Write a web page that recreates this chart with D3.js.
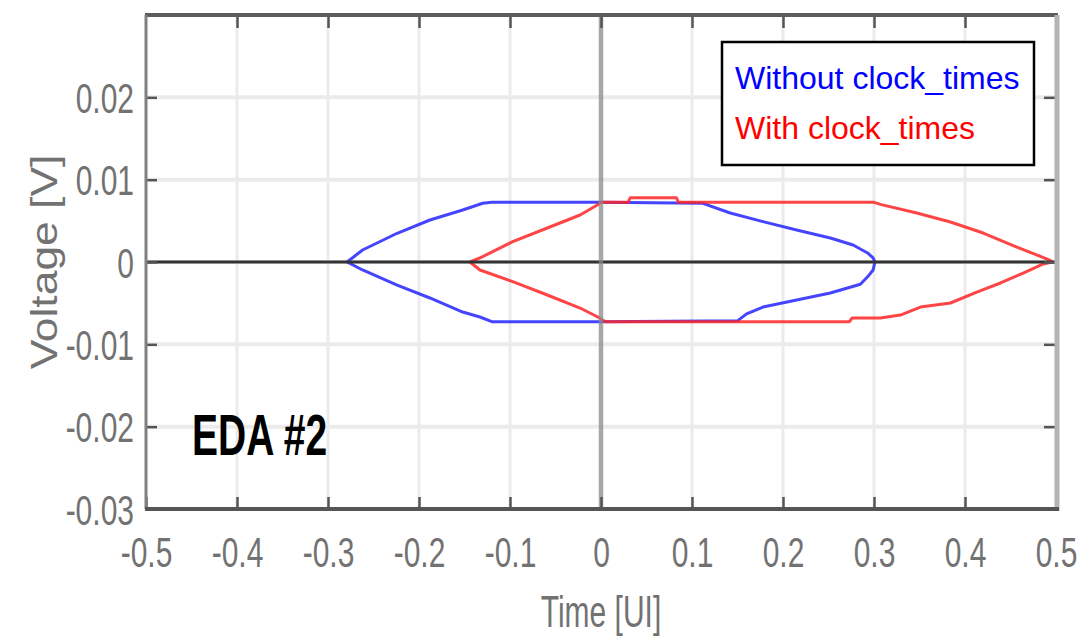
<!DOCTYPE html>
<html>
<head>
<meta charset="utf-8">
<script src="https://cdn.jsdelivr.net/npm/d3@7"></script>
<style>
  html, body { margin: 0; padding: 0; background: #fff; }
  svg { display: block; }
</style>
</head>
<body>
<svg id="chart" width="1082" height="638"></svg>
<script>
// Eye contour, receiver without clock_times (time in UI, voltage in V)
const timesWithout = [-0.279, -0.262, -0.224, -0.188, -0.152, -0.130, -0.120, 0.000, 0.112,
  0.142, 0.178, 0.215, 0.252, 0.277, 0.293, 0.299, 0.301, 0.299, 0.293, 0.285, 0.252, 0.215, 0.178,
  0.160, 0.150, 0.000, -0.120, -0.133, -0.152, -0.188, -0.224, -0.262, -0.279];
const voltsWithout = [0, 0.00146, 0.00349, 0.0051, 0.00632, 0.00713, 0.00725, 0.00725, 0.00713,
  0.00595, 0.0049, 0.00389, 0.00292, 0.00207, 0.00110, 0.00049, 0, -0.00097, -0.00180, -0.00270, -0.00377, -0.00462, -0.00547,
  -0.0063, -0.00715, -0.00725, -0.00725, -0.00668, -0.00608, -0.00437, -0.0028, -0.00097, 0];

// Eye contour, receiver with clock_times
const timesWith = [-0.144, -0.133, -0.097, -0.059, -0.023, -0.004, 0.000, 0.030, 0.032, 0.083, 0.085,
  0.300, 0.307, 0.347, 0.384, 0.420, 0.457, 0.493, 0.496, 0.486, 0.464, 0.439, 0.413, 0.384,
  0.351, 0.329, 0.307, 0.276, 0.273, 0.005, -0.004, -0.023, -0.059, -0.097, -0.133, -0.144];
const voltsWith = [0, 0.00049, 0.00247, 0.00413, 0.00571, 0.00693, 0.00725, 0.00725, 0.0078, 0.0078, 0.00725,
  0.00725, 0.0070, 0.00595, 0.00486, 0.00352, 0.00182, 0.00024, 0, -0.00024, -0.00134, -0.00255, -0.00365, -0.00498,
  -0.00547, -0.00644, -0.0068, -0.0068, -0.00725, -0.00725, -0.00665, -0.00559, -0.00401, -0.00239, -0.00097, 0];

const xTickValues = [-0.5, -0.4, -0.3, -0.2, -0.1, 0, 0.1, 0.2, 0.3, 0.4, 0.5];
const xTickLabels = ["-0.5", "-0.4", "-0.3", "-0.2", "-0.1", "0", "0.1", "0.2", "0.3", "0.4", "0.5"];
const yTickValues = [-0.03, -0.02, -0.01, 0, 0.01, 0.02];
const yTickLabels = ["-0.03", "-0.02", "-0.01", "0", "0.01", "0.02"];
const xGrid = [-0.4, -0.3, -0.2, -0.1, 0.1, 0.2, 0.3, 0.4];
const yGrid = [-0.02, -0.01, 0, 0.01, 0.02];

const seriesNames = ["Without clock_times", "With clock_times"];
const seriesColors = ["#2424ff", "#ff2424"];
const legendColors = ["#0000ff", "#ff0000"];

const svg = d3.select("#chart");
const plotLeft = 146, plotRight = 1056, plotTop = 15, plotBottom = 509;

const x = d3.scaleLinear().domain([-0.5, 0.5]).range([plotLeft, plotRight]);
const y = d3.scaleLinear().domain([-0.03, 0.03]).range([plotBottom, plotTop]);

// grid
const grid = svg.append("g");
grid.selectAll(".gx").data(xGrid).join("line")
  .attr("x1", d => x(d)).attr("x2", d => x(d)).attr("y1", plotTop).attr("y2", plotBottom)
  .attr("stroke", "#ebebeb").attr("stroke-width", 3);
grid.selectAll(".gy").data(yGrid).join("line")
  .attr("x1", plotLeft).attr("x2", plotRight).attr("y1", d => y(d)).attr("y2", d => y(d))
  .attr("stroke", "#ebebeb").attr("stroke-width", 4);

// eye contours
const line = d3.line().x(d => x(d[0])).y(d => y(d[1]));
const blueData = timesWithout.map((t, i) => [t, voltsWithout[i]]);
const redData = timesWith.map((t, i) => [t, voltsWith[i]]);
svg.append("path").datum(blueData).attr("d", line)
  .attr("fill", "none").attr("stroke", seriesColors[0]).attr("stroke-width", 3)
  .attr("stroke-opacity", 0.85).attr("stroke-linejoin", "round");
svg.append("path").datum(redData).attr("d", line)
  .attr("fill", "none").attr("stroke", seriesColors[1]).attr("stroke-width", 3)
  .attr("stroke-opacity", 0.85).attr("stroke-linejoin", "round");

// zero reference lines
svg.append("line").attr("x1", plotLeft).attr("x2", plotRight).attr("y1", y(0)).attr("y2", y(0))
  .attr("stroke", "#333").attr("stroke-width", 3);
svg.append("line").attr("x1", x(0)).attr("x2", x(0)).attr("y1", plotTop).attr("y2", plotBottom)
  .attr("stroke", "#8a8a8a").attr("stroke-width", 4.5).attr("stroke-opacity", 0.75);

// axes (ticks pointing inward)
const tickStyle = g => {
  g.select(".domain").remove();
  g.selectAll(".tick line").attr("stroke", "#555").attr("stroke-width", 2.5);
};
const labelStyle = (g, tx, ty, anchor, sy) => {
  g.selectAll(".tick text")
    .attr("x", null).attr("y", null).attr("dy", null)
    .attr("text-anchor", anchor)
    .attr("transform", `translate(${tx},${ty}) scale(1,${sy})`)
    .attr("font-family", "'Liberation Sans', Arial, sans-serif")
    .attr("font-size", 30).attr("fill", "#727272");
};

const gBottom = svg.append("g").attr("transform", `translate(0,${plotBottom})`)
  .call(d3.axisBottom(x).tickValues(xTickValues).tickFormat((d, i) => xTickLabels[i]).tickSizeInner(-12).tickSizeOuter(0));
tickStyle(gBottom);
labelStyle(gBottom, 0, 58, "middle", 1.4);

const gLeft = svg.append("g").attr("transform", `translate(${plotLeft},0)`)
  .call(d3.axisLeft(y).tickValues(yTickValues).tickFormat((d, i) => yTickLabels[i]).tickSizeInner(-11).tickSizeOuter(0));
tickStyle(gLeft);
labelStyle(gLeft, -12, 15, "end", 1.4);

const gTop = svg.append("g").attr("transform", `translate(0,${plotTop})`)
  .call(d3.axisTop(x).tickValues(xTickValues.slice(1, -1)).tickFormat("").tickSizeInner(-13).tickSizeOuter(0));
tickStyle(gTop);
const gRight = svg.append("g").attr("transform", `translate(${plotRight},0)`)
  .call(d3.axisRight(y).tickValues(yGrid).tickFormat("").tickSizeInner(-12).tickSizeOuter(0));
tickStyle(gRight);

// frame
svg.append("line").attr("x1", plotLeft - 1).attr("x2", plotRight + 2).attr("y1", plotTop).attr("y2", plotTop)
  .attr("stroke", "#5c5c5c").attr("stroke-width", 4);
svg.append("line").attr("x1", plotRight + 1).attr("x2", plotRight + 1).attr("y1", plotTop).attr("y2", plotBottom + 2)
  .attr("stroke", "#b4b4b4").attr("stroke-width", 5);
svg.append("line").attr("x1", plotLeft).attr("x2", plotLeft).attr("y1", plotTop).attr("y2", plotBottom)
  .attr("stroke", "#808080").attr("stroke-width", 3);
svg.append("line").attr("x1", plotLeft - 1).attr("x2", plotRight + 3).attr("y1", plotBottom).attr("y2", plotBottom)
  .attr("stroke", "#555").attr("stroke-width", 4);

// axis titles
svg.append("text").text("Time [UI]")
  .attr("text-anchor", "middle")
  .attr("transform", `translate(${(plotLeft + plotRight) / 2},627) scale(1,1.5)`)
  .attr("font-family", "'Liberation Sans', Arial, sans-serif")
  .attr("font-size", 30).attr("fill", "#727272");
svg.append("text").text("Voltage  [V]")
  .attr("text-anchor", "middle")
  .attr("transform", `translate(57,${y(0)}) rotate(-90) scale(1.2,1)`)
  .attr("font-family", "'Liberation Sans', Arial, sans-serif")
  .attr("font-size", 37).attr("fill", "#727272");

// legend
const legend = svg.append("g");
legend.append("rect").attr("x", 722).attr("y", 42).attr("width", 312).attr("height", 123)
  .attr("fill", "#fff").attr("stroke", "#000").attr("stroke-width", 2.5);
legend.selectAll("text").data(seriesNames).join("text")
  .attr("x", 735).attr("y", (d, i) => 89 + i * 50)
  .text(d => d)
  .attr("fill", (d, i) => legendColors[i])
  .attr("font-family", "'Liberation Sans', Arial, sans-serif")
  .attr("font-size", 32);

// annotation
svg.append("text").text("EDA #2")
  .attr("transform", "translate(192,455) scale(1,1.45)")
  .attr("font-family", "'Liberation Sans', Arial, sans-serif")
  .attr("font-weight", "bold").attr("font-size", 39).attr("fill", "#000");
</script>
</body>
</html>
